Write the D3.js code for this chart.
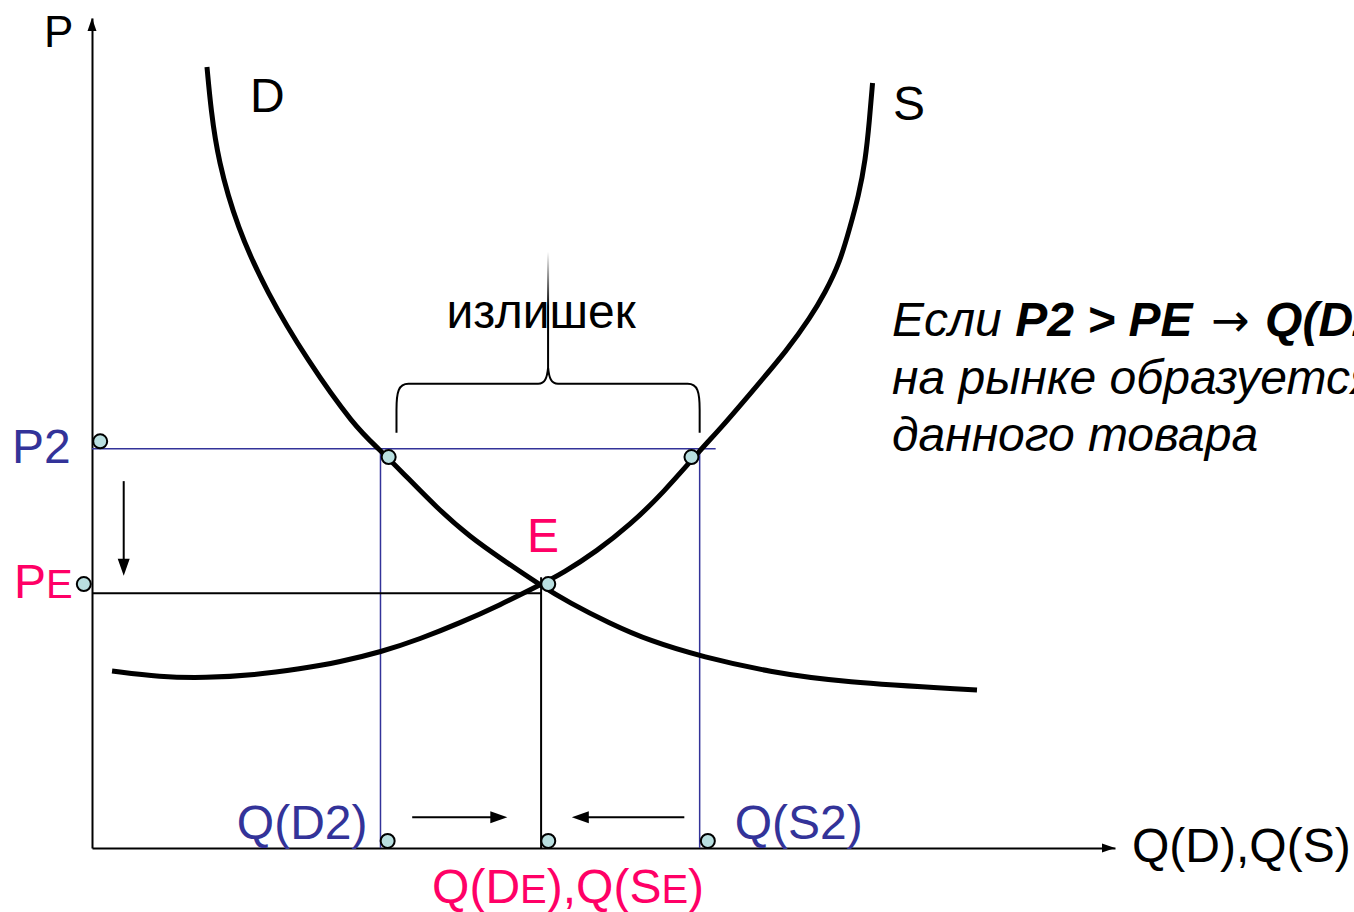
<!DOCTYPE html>
<html>
<head>
<meta charset="utf-8">
<script src="https://cdn.jsdelivr.net/npm/d3@7"></script>
<style>
  body { margin: 0; background: #fff; overflow: hidden; }
  svg { display: block; font-family: "Liberation Sans", Arial, sans-serif; }
</style>
</head>
<body>
<div id="chart"></div>
<script>
'use strict';

// curves, [Q, P] in chart units (0..100 on both axes)
const demandCurve = [[11.24, 94.10], [11.63, 88.92], [12.32, 82.89], [14.17, 74.82],
    [17.11, 66.87], [21.02, 58.80], [25.70, 50.72], [27.96, 48.19], [30.40, 45.18],
    [33.72, 40.96], [36.95, 37.47], [40.18, 34.70], [43.79, 31.69], [46.72, 29.52],
    [50.54, 27.11], [54.55, 24.94], [59.73, 23.01], [66.28, 21.20], [73.12, 20.00],
    [86.51, 19.04]];
const supplyCurve = [[1.96, 21.33], [6.65, 20.60], [11.05, 20.48], [15.93, 20.84],
    [20.33, 21.57], [24.24, 22.41], [28.25, 23.61], [32.06, 25.18], [35.97, 27.11],
    [39.88, 29.28], [43.79, 31.69], [46.04, 33.13], [49.36, 35.78], [52.59, 38.92],
    [55.82, 42.77], [59.63, 48.19], [61.39, 50.48], [64.32, 54.70], [68.04, 60.12],
    [70.19, 63.86], [71.65, 66.87], [73.12, 70.60], [74.10, 74.82], [74.93, 78.55],
    [75.61, 82.89], [76.00, 87.71], [76.30, 92.17]];

// price / quantity levels
const P2 = 48.1, PE = 30.7;
const QD2 = 28.2, QE = 43.9, QS2 = 59.4;

// little round markers
const markerPoints = [[0.8, 49.0], [-0.8, 31.8], [29.0, 47.1], [58.6, 47.1], [44.6, 31.8],
    [28.9, 0.85], [44.6, 0.85], [60.2, 0.85]];

// movement arrows [from, to]
const arrowMoves = [
    [[3.1, 44.2], [3.1, 32.8]],
    [[31.3, 3.7], [40.6, 3.7]],
    [[57.9, 3.7], [46.9, 3.7]]
];

const blue = "#333399", pink = "#ff0066";

let width = 1354, height = 912;

let x = d3.scaleLinear().domain([0, 100]).range([92, 1115]);
let y = d3.scaleLinear().domain([0, 100]).range([848, 18]);

let svg = d3.select("#chart").append("svg")
    .attr("width", width)
    .attr("height", height);

svg.append("rect").attr("width", width).attr("height", height).attr("fill", "#fff");

// fading tail of the brace
let grad = svg.append("defs").append("linearGradient")
    .attr("id", "tailFade")
    .attr("x1", 0).attr("y1", 0).attr("x2", 0).attr("y2", 1);
grad.append("stop").attr("offset", "0%").attr("stop-color", "#000").attr("stop-opacity", 0);
grad.append("stop").attr("offset", "45%").attr("stop-color", "#000").attr("stop-opacity", 1);
grad.append("stop").attr("offset", "100%").attr("stop-color", "#000").attr("stop-opacity", 1);

function arrowHead(px, py, angle, len, w) {
    let pts = [[0, 0], [-len, -w / 2], [-len, w / 2]].map(p => {
        let c = Math.cos(angle), s = Math.sin(angle);
        return [px + p[0] * c - p[1] * s, py + p[0] * s + p[1] * c];
    });
    svg.append("path")
        .attr("d", "M" + pts.join("L") + "Z")
        .attr("fill", "#000");
}

// axes, no ticks
svg.append("g")
    .attr("transform", "translate(0," + y(0) + ")")
    .call(d3.axisBottom(x).tickValues([]).tickSizeOuter(0))
    .select(".domain").attr("stroke-width", 2);
svg.append("g")
    .attr("transform", "translate(" + x(0) + ",0)")
    .call(d3.axisLeft(y).tickValues([]).tickSizeOuter(0))
    .select(".domain").attr("stroke-width", 2);
arrowHead(x(100), y(0), 0, 13, 9);
arrowHead(x(0), y(100), -Math.PI / 2, 13, 9);

// guide lines
let guides = svg.append("g");
guides.append("line")
    .attr("x1", x(0)).attr("x2", x(QS2) + 16)
    .attr("y1", y(P2)).attr("y2", y(P2))
    .attr("stroke", blue).attr("stroke-width", 1.5);
[QD2, QS2].forEach(q => {
    guides.append("line")
        .attr("x1", x(q)).attr("x2", x(q))
        .attr("y1", y(P2)).attr("y2", y(0))
        .attr("stroke", blue).attr("stroke-width", 1.5);
});
guides.append("line")
    .attr("x1", x(0)).attr("x2", x(QE))
    .attr("y1", y(PE)).attr("y2", y(PE))
    .attr("stroke", "#000").attr("stroke-width", 2);
guides.append("line")
    .attr("x1", x(QE)).attr("x2", x(QE))
    .attr("y1", y(PE) - 16).attr("y2", y(0))
    .attr("stroke", "#000").attr("stroke-width", 2);

// D and S curves
let line = d3.line()
    .x(d => x(d[0]))
    .y(d => y(d[1]))
    .curve(d3.curveBasis);

svg.selectAll(".curve")
    .data([demandCurve, supplyCurve])
    .enter().append("path")
    .attr("class", "curve")
    .attr("d", line)
    .attr("fill", "none")
    .attr("stroke", "#000")
    .attr("stroke-width", 5);

// brace over the surplus
let bl = x(QD2) + 16, br = x(QS2), bm = (bl + br) / 2,
    bb = y(P2) - 16, bt = y(P2) - 65;
svg.append("path")
    .attr("d", "M" + bl + "," + bb + " L" + bl + "," + (bt + 26) +
        " C" + bl + "," + (bt + 8) + " " + (bl + 2) + "," + bt + " " + (bl + 12) + "," + bt +
        " L" + (bm - 10) + "," + bt +
        " C" + (bm - 3) + "," + bt + " " + (bm - 1) + "," + (bt - 6) + " " + bm + "," + (bt - 16) +
        " C" + (bm + 1) + "," + (bt - 6) + " " + (bm + 3) + "," + bt + " " + (bm + 10) + "," + bt +
        " L" + (br - 12) + "," + bt +
        " C" + (br - 2) + "," + bt + " " + br + "," + (bt + 8) + " " + br + "," + (bt + 26) +
        " L" + br + "," + bb)
    .attr("fill", "none")
    .attr("stroke", "#000")
    .attr("stroke-width", 2);
svg.append("rect")
    .attr("x", bm - 1).attr("y", bt - 132)
    .attr("width", 2).attr("height", 122)
    .attr("fill", "url(#tailFade)");

// movement arrows
arrowMoves.forEach(m => {
    let x1 = x(m[0][0]), y1 = y(m[0][1]), x2 = x(m[1][0]), y2 = y(m[1][1]);
    let ang = Math.atan2(y2 - y1, x2 - x1);
    svg.append("line")
        .attr("x1", x1).attr("y1", y1)
        .attr("x2", x2 - 14 * Math.cos(ang)).attr("y2", y2 - 14 * Math.sin(ang))
        .attr("stroke", "#000").attr("stroke-width", 2);
    arrowHead(x2, y2, ang, 17, 12);
});

// markers
svg.selectAll(".dot")
    .data(markerPoints)
    .enter().append("circle")
    .attr("class", "dot")
    .attr("cx", d => x(d[0]))
    .attr("cy", d => y(d[1]))
    .attr("r", 7)
    .attr("fill", "#b9dfe0")
    .attr("stroke", "#000")
    .attr("stroke-width", 2);

// labels
function label(txt, px, py, color, anchor) {
    return svg.append("text")
        .attr("x", px).attr("y", py)
        .attr("fill", color)
        .attr("text-anchor", anchor || "start")
        .style("font-size", "48px")
        .text(txt);
}

label("P", 44, 47, "#000").style("font-size", "44px");
label("D", 250, 112, "#000");
label("S", 893, 120, "#000");
label("излишек", bm - 7, 328, "#000", "middle");
label("P2", 12, y(P2) + 14, blue);
label("E", x(QE) + 2, 552, pink, "middle");
label("Q(D2)", x(QD2) - 13, 839, blue, "end");
label("Q(S2)", x(QS2) + 35, 839, blue);
label("Q(D),Q(S)", 1132, 862, "#000");

let pe = label("P", 14, y(PE) + 5, pink);
pe.append("tspan").style("font-size", "40px").text("E");

let qe = label("Q(D", x(QE) + 27, 903, pink, "middle");
qe.append("tspan").style("font-size", "40px").text("E");
qe.append("tspan").text("),Q(S");
qe.append("tspan").style("font-size", "40px").text("E");
qe.append("tspan").text(")");

// explanation at the right, cut by the page edge as in the slide
let note = svg.append("text")
    .attr("x", 892).attr("y", 336)
    .style("font-size", "48px")
    .style("font-style", "italic")
    .attr("fill", "#000");
let l1 = note.append("tspan").attr("x", 892);
l1.append("tspan").text("Если ");
l1.append("tspan").style("font-weight", "bold").text("P2 > PE");
l1.append("tspan").attr("dx", 4)
    .style("font-family", "'DejaVu Sans'").style("font-style", "normal")
    .style("font-size", "46px").text(" →");
l1.append("tspan").attr("dx", 2).style("font-weight", "bold").text(" Q(D2) < Q(S2),");
note.append("tspan").attr("x", 892).attr("dy", 57.5).text("на рынке образуется излишек");
note.append("tspan").attr("x", 892).attr("dy", 57.5).text("данного товара");
</script>
</body>
</html>
